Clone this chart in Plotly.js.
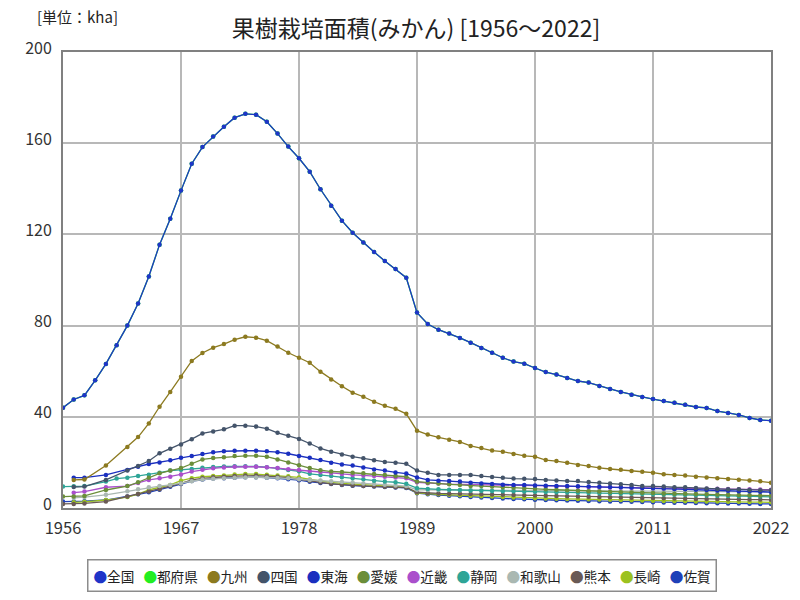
<!DOCTYPE html>
<html>
<head>
<meta charset="utf-8">
<script src="https://cdn.plot.ly/plotly-3.0.1.min.js"></script>
<style>html,body{margin:0;padding:0;background:#fff;}#chart{width:800px;height:600px;}</style>
</head>
<body>
<div id="chart"></div>
<script>
const years = [1956,1957,1958,1959,1960,1961,1962,1963,1964,1965,1966,1967,1968,1969,1970,1971,1972,1973,1974,1975,1976,1977,1978,1979,1980,1981,1982,1983,1984,1985,1986,1987,1988,1989,1990,1991,1992,1993,1994,1995,1996,1997,1998,1999,2000,2001,2002,2003,2004,2005,2006,2007,2008,2009,2010,2011,2012,2013,2014,2015,2016,2017,2018,2019,2020,2021,2022];
const xTicks = [1956,1967,1978,1989,2000,2011,2022];

const national = [44.0,47.6,49.4,56.0,63.2,71.4,80.0,89.7,101.5,115.5,126.9,139.2,151.0,158.3,162.9,167.2,171.2,172.9,172.5,169.4,164.2,158.5,153.4,147.5,139.8,132.6,126.0,120.7,116.4,112.3,108.3,104.8,101.0,85.7,80.7,78.2,76.5,74.6,72.5,70.2,68.1,65.9,64.2,63.3,61.4,59.6,58.5,57.0,55.7,55.0,53.5,52.2,50.9,49.7,48.7,47.8,46.9,46.2,45.3,44.3,43.9,42.5,41.7,40.8,39.5,38.6,38.3];
const prefectures = [44.0,47.6,49.4,56.0,63.2,71.4,80.0,89.7,101.5,115.5,126.9,139.2,151.0,158.3,162.9,167.2,171.2,172.9,172.5,169.4,164.2,158.5,153.4,147.5,139.8,132.6,126.0,120.7,116.4,112.3,108.3,104.8,101.0,85.7,80.7,78.2,76.5,74.6,72.5,70.2,68.1,65.9,64.2,63.3,61.4,59.6,58.5,57.0,55.7,55.0,53.5,52.2,50.9,49.7,48.7,47.8,46.9,46.2,45.3,44.3,43.9,42.5,41.7,40.8,39.5,38.6,38.3];
const kyushu = [null,12.3,12.5,null,18.6,null,26.8,31.1,37.1,44.4,50.9,57.6,64.5,68.0,70.3,71.9,73.8,75.1,74.7,73.4,70.8,68.1,65.9,63.7,59.8,56.4,53.4,50.6,48.8,46.6,44.8,43.5,41.3,33.9,32.2,31.0,29.9,29.0,27.2,26.3,25.2,24.7,23.7,22.9,22.5,21.0,20.6,19.8,18.9,18.4,17.6,17.1,16.8,16.2,15.9,15.5,14.8,14.5,14.2,13.7,13.4,13.0,12.7,12.4,12.1,11.7,11.1];
const shikoku = [null,9.2,9.4,null,12.3,null,16.5,18.4,20.6,24.0,26.0,27.9,30.2,32.7,33.6,34.5,36.1,36.1,35.7,34.8,33.0,31.7,30.3,28.3,26.1,24.7,23.5,22.5,21.8,20.9,20.2,19.9,19.4,16.4,15.5,14.5,14.5,14.5,14.5,14.0,13.6,13.3,12.9,12.8,12.7,12.3,12.1,11.8,11.8,11.4,11.1,10.7,10.4,10.1,9.6,9.6,9.4,9.1,9.1,8.8,8.6,8.3,8.2,8.2,7.9,7.8,7.8];
const tokai = [null,13.3,13.3,null,14.5,null,16.7,18.1,19.3,20.0,20.9,22.0,22.8,23.7,24.4,24.9,25.1,25.1,25.1,24.9,24.5,23.8,22.8,22.0,21.0,19.8,19.1,18.6,17.8,16.9,16.4,15.6,15.1,13.4,12.3,12.0,11.8,11.6,11.1,10.8,10.5,10.2,10.1,10.1,9.9,9.8,9.7,9.6,9.5,9.4,9.3,9.2,9.1,9.0,8.8,8.7,8.5,8.3,8.2,8.0,7.9,7.7,7.6,7.4,7.3,7.1,7.0];
const ehime = [5.0,5.0,5.3,null,7.9,null,9.6,11.3,13.3,15.2,16.4,17.5,19.4,21.3,21.9,22.3,22.8,22.9,22.9,22.5,21.3,20.0,18.8,17.5,16.6,16.0,15.8,15.5,15.2,14.9,14.5,14.0,13.7,11.6,11.1,10.8,10.4,10.1,9.7,9.6,9.4,9.1,8.9,8.6,8.4,8.2,8.0,7.8,7.6,7.4,7.2,7.0,6.9,6.8,6.7,6.6,6.4,6.3,6.2,6.1,6.0,5.9,5.8,5.7,5.6,5.5,5.4];
const kinki = [null,6.7,7.2,null,9.1,null,9.6,11.0,12.3,13.0,13.7,14.7,16.0,16.8,17.4,17.8,18.1,18.1,18.1,17.9,17.5,17.0,16.7,16.2,15.8,15.4,14.9,14.5,14.3,14.0,13.7,13.4,13.0,11.3,10.9,10.7,10.5,10.4,10.2,10.1,10.0,9.9,9.8,9.7,9.6,9.5,9.4,9.3,9.3,9.2,9.1,9.0,9.0,8.9,8.8,8.8,8.7,8.6,8.6,8.5,8.4,8.4,8.3,8.2,8.2,8.1,8.0];
const shizuoka = [9.4,9.5,9.6,null,11.6,12.9,13.3,14.0,14.6,15.5,16.4,16.8,17.1,17.6,18.0,18.2,18.3,18.3,18.2,17.9,17.4,16.7,16.1,15.0,14.5,14.0,13.5,13.0,12.6,11.9,11.6,11.3,10.6,8.7,8.3,8.2,8.0,7.9,7.7,7.6,7.5,7.4,7.3,7.2,7.1,7.0,6.9,6.8,6.7,6.6,6.5,6.4,6.3,6.2,6.1,6.0,5.9,5.8,5.7,5.6,5.5,5.4,5.3,5.2,5.1,5.0,4.9];
const wakayama = [null,4.5,4.8,null,5.8,null,7.3,8.2,9.1,9.6,10.1,10.8,11.7,12.5,12.8,13.1,13.3,13.4,13.4,13.3,13.2,13.0,12.6,12.3,12.1,11.7,11.4,11.2,10.8,10.5,10.2,9.9,9.6,8.0,7.9,7.9,7.9,7.8,7.8,7.8,7.7,7.7,7.7,7.6,7.6,7.6,7.5,7.5,7.5,7.5,7.5,7.4,7.4,7.4,7.4,7.4,7.4,7.3,7.3,7.3,7.3,7.3,7.2,7.2,7.1,7.1,7.0];
const kumamoto = [1.8,1.8,2.0,null,2.8,null,5.0,6.1,7.2,8.2,9.6,10.8,12.3,13.0,13.5,13.7,14.0,14.2,14.2,14.0,13.7,13.3,12.6,11.8,11.2,10.6,10.2,9.9,9.7,9.5,9.3,9.1,9.0,6.9,6.5,6.4,6.3,6.2,6.1,6.0,5.9,5.8,5.7,5.6,5.5,5.4,5.3,5.1,5.0,4.9,4.8,4.7,4.6,4.5,4.4,4.4,4.3,4.2,4.1,4.0,4.0,3.9,3.8,3.8,3.7,3.7,3.6];
const nagasaki = [null,2.5,2.7,null,3.5,null,4.8,6.1,7.9,9.1,10.1,12.0,13.1,13.7,14.0,14.3,14.7,14.9,14.9,14.6,14.2,13.9,13.4,12.5,11.8,11.2,10.8,10.5,10.1,9.8,9.5,9.3,9.1,6.6,6.2,6.0,5.8,5.6,5.4,5.2,5.0,4.8,4.6,4.4,4.3,4.2,4.1,4.0,3.9,3.8,3.7,3.6,3.5,3.4,3.3,3.2,3.1,3.0,3.0,2.9,2.8,2.8,2.7,2.7,2.6,2.6,2.5];
const saga = [2.8,2.8,3.0,null,3.5,null,5.0,6.0,6.9,8.0,9.3,10.5,11.8,12.5,12.9,13.1,13.3,13.5,13.5,13.3,13.0,12.6,12.2,11.5,11.0,10.5,10.1,9.8,9.6,9.4,9.2,9.0,8.8,6.5,6.0,5.7,5.4,5.1,4.8,4.6,4.4,4.2,4.0,3.8,3.6,3.5,3.4,3.3,3.2,3.1,3.0,2.9,2.8,2.7,2.6,2.5,2.4,2.3,2.3,2.2,2.1,2.1,2.0,2.0,1.9,1.8,1.8];

const seriesNames = ['全国','都府県','九州','四国','東海','愛媛','近畿','静岡','和歌山','熊本','長崎','佐賀'];
const seriesValues = [national, prefectures, kyushu, shikoku, tokai, ehime, kinki, shizuoka, wakayama, kumamoto, nagasaki, saga];
const seriesColors = ['#1f35c8','#22ee22','#8c7a20','#44546a','#1a2fbf','#6b8e3a','#aa4fcc','#2ea597','#aab8b2','#6a5a55','#9cc21f','#1f40b8'];

// draw order: 都府県 underneath, 全国 on top
const drawOrder = [1,11,10,9,8,7,6,5,4,3,2,0];
const traces = drawOrder.map(i => ({
  type: 'scatter',
  mode: 'lines+markers',
  name: seriesNames[i],
  x: years,
  y: seriesValues[i],
  connectgaps: true,
  line: {color: seriesColors[i], width: 1.3},
  marker: {color: seriesColors[i], size: 4.5},
  showlegend: false,
  hoverinfo: 'x+y+name'
}));

const legendText = seriesNames.map((n, i) =>
  '<span style="color:' + seriesColors[i] + '">●</span>' + n
).join('&nbsp;&nbsp;&nbsp;');

const font = '"Noto Sans CJK JP", "Noto Sans", sans-serif';

const layout = {
  width: 800, height: 600,
  paper_bgcolor: '#fff', plot_bgcolor: '#fff',
  margin: {l: 63, r: 29, t: 52, b: 92},
  font: {family: font, color: '#222'},
  title: {
    text: '果樹栽培面積(みかん) [1956～2022]',
    font: {family: font, size: 23, color: '#222'},
    x: 0.52, xanchor: 'center', y: 0.952, yanchor: 'middle'
  },
  xaxis: {
    range: [1956, 2022],
    tickvals: xTicks,
    ticktext: xTicks.map(String),
    showgrid: true, gridcolor: '#b8b8b8', gridwidth: 2,
    showline: true, linecolor: '#808080', linewidth: 2, mirror: true,
    zeroline: false, ticks: '', ticklabelstandoff: 4,
    tickfont: {family: font, size: 16.5, color: '#333'}
  },
  yaxis: {
    range: [0, 200],
    tickvals: [0,40,80,120,160,200],
    showgrid: true, gridcolor: '#b8b8b8', gridwidth: 2,
    showline: true, linecolor: '#808080', linewidth: 2, mirror: true,
    zeroline: false, ticks: '', ticklabelstandoff: 6, ticklabelshift: -4,
    tickfont: {family: font, size: 16, color: '#333'}
  },
  showlegend: false,
  annotations: [
    {
      text: '[単位：kha]', xref: 'paper', yref: 'paper',
      x: -0.0395, y: 1.0768, xanchor: 'left', yanchor: 'middle',
      showarrow: false, font: {family: font, size: 15, color: '#222'}
    },
    {
      text: legendText, xref: 'paper', yref: 'paper',
      x: 0.4795, y: -0.149, xanchor: 'center', yanchor: 'middle',
      showarrow: false, font: {family: font, size: 13.6, color: '#222'},
      bordercolor: '#8c8c8c', borderwidth: 1.5, borderpad: 5, bgcolor: '#fff'
    }
  ]
};

Plotly.newPlot('chart', traces, layout, {displayModeBar: false, staticPlot: true});
</script>
</body>
</html>
